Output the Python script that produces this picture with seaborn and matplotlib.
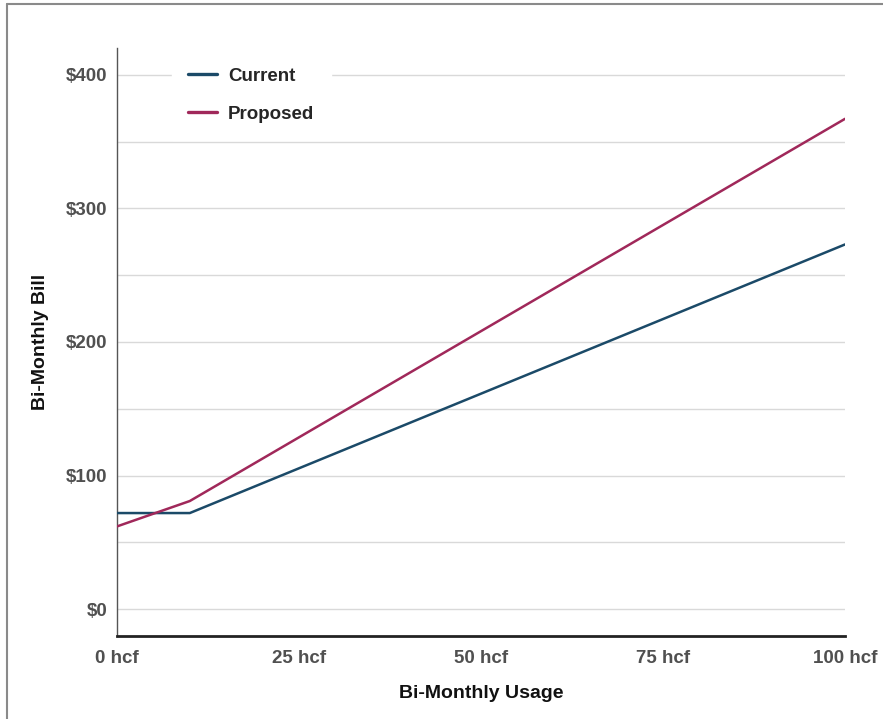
import seaborn as sns
import matplotlib.pyplot as plt
import pandas as pd
from matplotlib.lines import Line2D
from matplotlib.ticker import FixedLocator

# Values
usage_hcf = [0, 10, 100]
current_bill = [72, 72, 273]
proposed_bill = [62, 81, 367]
series_names = ["Current", "Proposed"]
x_ticks = [0, 25, 50, 75, 100]
x_tick_labels = ["0 hcf", "25 hcf", "50 hcf", "75 hcf", "100 hcf"]
y_ticks = [0, 100, 200, 300, 400]
y_tick_labels = ["$0", "$100", "$200", "$300", "$400"]
y_minor = [50, 150, 250, 350]

colors = {"Current": "#1b4a68", "Proposed": "#a0285a"}

# Long form table for seaborn
df = pd.DataFrame({
    "usage": usage_hcf * 2,
    "bill": current_bill + proposed_bill,
    "series": [series_names[0]] * len(usage_hcf) + [series_names[1]] * len(usage_hcf),
})

sns.set_theme(style="white")
plt.rcParams['font.family'] = ['Liberation Sans', 'DejaVu Sans']

fig = plt.figure(figsize=(8.83, 7.19), dpi=100)
ax = fig.add_axes([117 / 883, 1 - 636 / 719, 728 / 883, 588 / 719])

sns.lineplot(data=df, x="usage", y="bill", hue="series", palette=colors,
             linewidth=1.8, ax=ax, legend=False, zorder=3)

ax.set_xlim(0, 100)
ax.set_ylim(-20, 420)

ax.set_xticks(x_ticks)
ax.set_xticklabels(x_tick_labels, fontsize=13.5, fontweight="bold", color="#505050")
ax.set_yticks(y_ticks)
ax.set_yticklabels(y_tick_labels, fontsize=13.5, fontweight="bold", color="#505050")
ax.yaxis.set_minor_locator(FixedLocator(y_minor))
ax.tick_params(axis="both", which="both", length=0)
ax.tick_params(axis="x", pad=10)
ax.tick_params(axis="y", pad=7)

ax.grid(axis="y", which="both", color="#d9d9d9", linewidth=1)
ax.set_axisbelow(True)

ax.spines["top"].set_visible(False)
ax.spines["right"].set_visible(False)
ax.spines["left"].set_color("#555555")
ax.spines["left"].set_linewidth(1)
ax.spines["bottom"].set_color("#222222")
ax.spines["bottom"].set_linewidth(2)

ax.set_xlabel("Bi-Monthly Usage", fontsize=14, fontweight="bold", color="#111111", labelpad=13)
ax.set_ylabel("Bi-Monthly Bill", fontsize=14, fontweight="bold", color="#111111", labelpad=12)

handles = [Line2D([0], [0], color=colors[s], linewidth=2.4) for s in series_names]
leg = ax.legend(handles, series_names, loc="upper left", bbox_to_anchor=(0.075, 0.995),
                borderaxespad=0, borderpad=0.9,
                frameon=True, facecolor="white", edgecolor="white", framealpha=1,
                handlelength=1.5, handletextpad=0.6, labelspacing=1.1,
                prop={"weight": "bold", "size": 13.5})
leg.get_frame().set_boxstyle("square", pad=0)
leg.set_zorder(5)

# Gray frame along top and left of the screenshot
fig.add_artist(Line2D([7 / 883, 1], [1 - 4 / 719, 1 - 4 / 719], color="#8a8a8a", linewidth=1.5))
fig.add_artist(Line2D([7 / 883, 7 / 883], [0, 1 - 4 / 719], color="#8a8a8a", linewidth=1.5))

fig.savefig("out.png", dpi=100)
